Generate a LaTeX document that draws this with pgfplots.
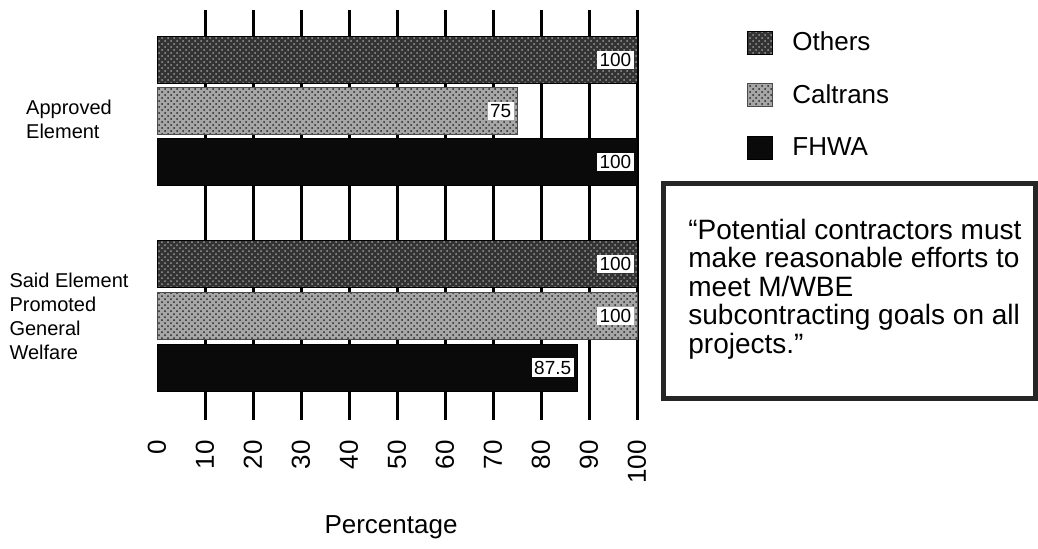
\documentclass[border=0pt]{standalone}
\usepackage{pgfplots}
\pgfplotsset{compat=1.18}
\usepackage{fontspec}
\setmainfont{Liberation Sans}
\usetikzlibrary{patterns}
\tikzset{
  othersbar/.style={fill=black!80, draw=black, postaction={pattern=crosshatch dots, pattern color=black!40}},
  caltransbar/.style={fill=black!35, draw=black!70, postaction={pattern=crosshatch dots, pattern color=black!85}},
  fhwabar/.style={fill=black!96, draw=black},
}
\begin{document}
\begin{tikzpicture}
\path[use as bounding box] (0,0) rectangle (519pt,274pt);
\begin{axis}[
  at={(78.5pt,64pt)}, anchor=south west,
  scale only axis, width=240pt, height=205pt,
  xbar,
  xmin=0, xmax=100,
  ymin=10, ymax=420, y dir=reverse,
  clip=false,
  axis line style={draw=none},
  major tick length=0pt,
  tick style={draw=none},
  xtick={10,20,...,100},
  extra x ticks={0},
  extra x tick style={grid=none},
  xmajorgrids,
  major grid style={black, line width=1.5pt},
  /pgf/number format/assume math mode=true,
  xticklabel style={rotate=90, anchor=east, xshift=-6.5pt, font=\fontsize{13}{15}\selectfont},
  xlabel={Percentage},
  xlabel style={at={(axis description cs:0.4875,0)}, anchor=center, yshift=-53.5pt, font=\fontsize{13}{15}\selectfont},
  ytick={119,316},
  yticklabels={Approved\\Element, Said Element\\Promoted\\General\\Welfare},
  yticklabel style={align=left, anchor=center, xshift=-44pt, font=\fontsize{10}{12}\selectfont},
  bar width=23.5pt,
  nodes near coords,
  every node near coord/.append style={anchor=east, fill=white, inner sep=1.2pt, xshift=-1.5pt, font=\fontsize{9.5}{11}\selectfont},
  legend cell align=left,
  legend style={at={(axis description cs:1.215,0.968)}, anchor=north west, draw=none, fill=none,
    font=\fontsize{13}{15}\selectfont, row sep=11.5pt,
    /tikz/every odd column/.append style={column sep=8pt}},
  legend image code/.code={\draw[#1] (0pt,-5.75pt) rectangle (12.5pt,5.75pt);},
]
\addplot[othersbar, /pgf/bar shift=0pt] coordinates {(100,60) (100,264)};
\addplot[caltransbar, /pgf/bar shift=0pt] coordinates {(75,111) (100,316)};
\addplot[fhwabar, /pgf/bar shift=0pt] coordinates {(100,162) (87.5,367.5)};
\legend{Others, Caltrans, FHWA}
\end{axis}
\draw[line width=2.5pt, black!85] (331.5pt,75pt) rectangle (517.5pt,182.5pt);
\begin{scope}[every node/.style={anchor=base west, inner sep=0pt, font=\fontsize{14}{16}\selectfont}]
\node at (344pt,154.5pt) {“Potential contractors must};
\node at (344pt,140.5pt) {make reasonable efforts to};
\node at (344pt,126pt) {meet M/WBE};
\node at (344pt,112pt) {subcontracting goals on all};
\node at (344pt,97.5pt) {projects.”};
\end{scope}
\end{tikzpicture}
\end{document}
